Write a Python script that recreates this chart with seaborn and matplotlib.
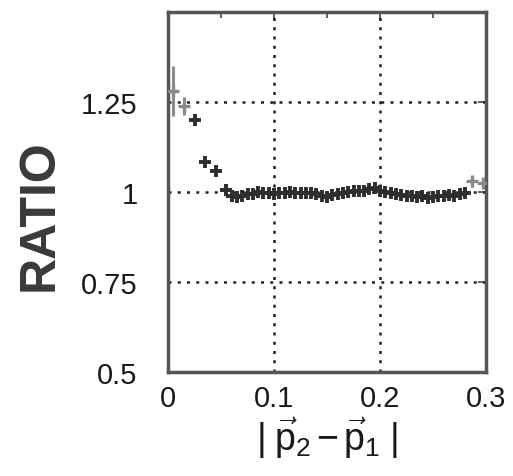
import numpy as np
import pandas as pd
import matplotlib
matplotlib.use("Agg")
import matplotlib.pyplot as plt
import seaborn as sns
from matplotlib.ticker import MultipleLocator

# momentum difference |p2 - p1| and measured ratio
dp_main = [0.025, 0.035, 0.045,
           0.055, 0.060, 0.065, 0.070, 0.075, 0.080, 0.085, 0.090, 0.095, 0.100,
           0.105, 0.110, 0.115, 0.120, 0.125, 0.130, 0.135, 0.140, 0.145, 0.150,
           0.155, 0.160, 0.165, 0.170, 0.175, 0.180, 0.185, 0.190, 0.195, 0.200,
           0.205, 0.210, 0.215, 0.220, 0.225, 0.230, 0.235, 0.240, 0.245, 0.250,
           0.255, 0.260, 0.265, 0.270, 0.275, 0.280]
ratio_main = [1.200, 1.083, 1.058,
              1.005, 0.990, 0.985, 0.990, 0.995, 0.995, 1.000, 0.998, 0.997, 0.995,
              0.998, 0.997, 1.000, 0.998, 0.996, 0.998, 0.996, 0.994, 0.990, 0.986,
              0.992, 0.995, 0.998, 1.000, 1.002, 1.004, 1.003, 1.008, 1.012, 1.004,
              1.000, 0.997, 0.995, 0.992, 0.988, 0.990, 0.985, 0.990, 0.982, 0.985,
              0.990, 0.988, 0.992, 0.990, 0.995, 0.997]

# edge bins (lower statistics)
dp_edge = [0.005, 0.015, 0.287, 0.297]
ratio_edge = [1.280, 1.240, 1.030, 1.025]
err_edge = [0.070, 0.025, 0.015, 0.015]

x_ticks = [0, 0.1, 0.2, 0.3]
x_ticklabels = ["0", "0.1", "0.2", "0.3"]
y_ticks = [0.5, 0.75, 1.0, 1.25]
y_ticklabels = ["0.5", "0.75", "1", "1.25"]

sns.set_theme(style="white")
plt.rcParams["font.family"] = ["Liberation Sans", "DejaVu Sans"]
plt.rcParams["mathtext.fontset"] = "custom"
plt.rcParams["mathtext.rm"] = "Liberation Sans"
plt.rcParams["mathtext.it"] = "Liberation Sans"

fig = plt.figure(figsize=(5.13, 4.77), dpi=100)
ax = fig.add_axes([168 / 513, 1 - 373 / 477, 318 / 513, 360 / 477])

main = pd.DataFrame({"dp": dp_main, "ratio": ratio_main})
edge = pd.DataFrame({"dp": dp_edge, "ratio": ratio_edge})

ax.errorbar(dp_edge, ratio_edge, yerr=err_edge, xerr=0.004, fmt="none",
            ecolor="#8a8a8a", elinewidth=2.2, capsize=0, zorder=3)
sns.scatterplot(data=edge, x="dp", y="ratio", marker="+", s=80,
                color="#8a8a8a", linewidth=2.4, ax=ax, zorder=3)
sns.scatterplot(data=main, x="dp", y="ratio", marker="+", s=85,
                color="#2e2e2e", linewidth=2.8, ax=ax, zorder=4)

ax.set_xlim(0, 0.3)
ax.set_ylim(0.5, 1.5)
ax.set_xticks(x_ticks)
ax.set_xticklabels(x_ticklabels)
ax.set_yticks(y_ticks)
ax.set_yticklabels(y_ticklabels)
ax.xaxis.set_minor_locator(MultipleLocator(0.05))

for v in (0.1, 0.2):
    ax.axvline(v, color="#222222", linestyle=(0, (1.2, 2.5)), linewidth=1.8, zorder=1)
for v in (0.75, 1.0, 1.25):
    ax.axhline(v, color="#222222", linestyle=(0, (1.2, 2.5)), linewidth=1.8, zorder=1)

ax.tick_params(axis="both", which="both", direction="in", top=True, right=True,
               color="#444444", width=1.2, labelsize=21, labelcolor="#1a1a1a")
ax.tick_params(axis="both", which="major", length=6)
ax.tick_params(axis="both", which="minor", length=4)
ax.tick_params(axis="x", pad=9)
ax.tick_params(axis="y", pad=22)

for sp in ax.spines.values():
    sp.set_color("#555555")
    sp.set_linewidth(2.5)

ax.set_xlabel(r"$|\;\vec{\mathrm{p}}_2\,\mathrm{-}\,\vec{\mathrm{p}}_1\;|$", fontsize=27,
              color="#1a1a1a", labelpad=2)
ax.set_ylabel("")
fig.text(40 / 513, 1 - 215 / 477, "RATIO", rotation=90, ha="center", va="center",
         fontsize=36, fontweight="bold", color="#3a3a3a")

fig.savefig("out.png", dpi=100)
